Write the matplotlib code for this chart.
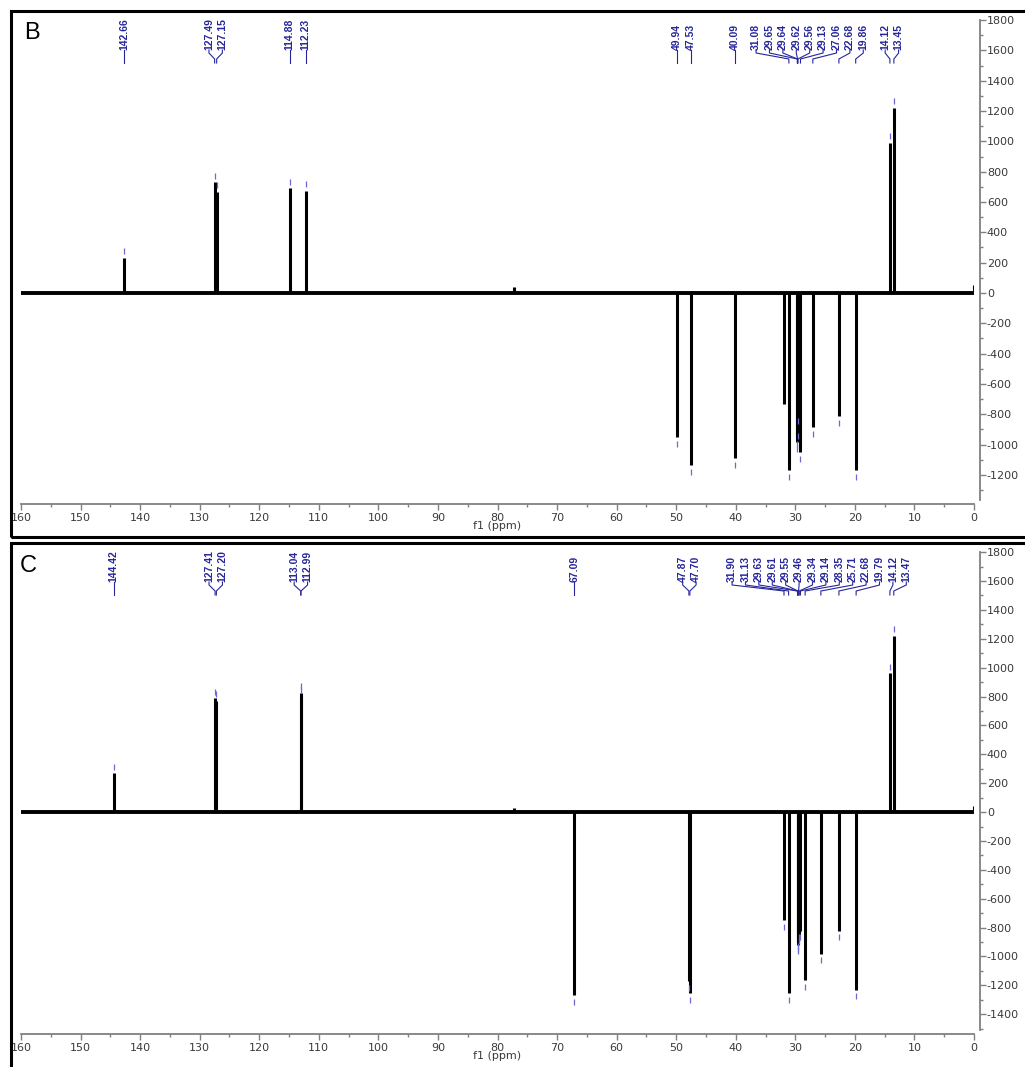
import numpy as np
import matplotlib.pyplot as plt
from matplotlib.transforms import blended_transform_factory
from matplotlib.patches import Rectangle
from matplotlib.ticker import MultipleLocator

plt.rcParams['axes.unicode_minus'] = False
plt.rcParams['font.family'] = ['DejaVu Sans']

# panel B peaks (ppm, intensity)
b_ppm = [142.66, 127.49, 127.15, 114.88, 112.23, 77.2, 49.94, 47.53, 40.09, 31.90, 31.08,
         29.65, 29.64, 29.62, 29.56, 29.13, 27.06, 22.68, 19.86, 14.12, 13.45, 0.0]
b_int = [230, 730, 665, 690, 675, 40, -950, -1135, -1090, -735, -1170,
         -985, -950, -900, -800, -1050, -885, -810, -1170, 990, 1220, 55]
b_labels = [142.66, 127.49, 127.15, 114.88, 112.23, 49.94, 47.53, 40.09, 31.08, 29.65,
            29.64, 29.62, 29.56, 29.13, 27.06, 22.68, 19.86, 14.12, 13.45]

# panel C peaks
c_ppm = [144.42, 127.41, 127.20, 113.04, 112.99, 77.2, 67.09, 47.87, 47.70, 31.90, 31.13,
         29.63, 29.61, 29.55, 29.46, 29.34, 29.14, 28.35, 25.71, 22.68, 19.79, 14.12, 13.47, 0.0]
c_int = [270, 790, 770, 825, 800, 25, -1270, -1170, -1255, -750, -1255,
         -920, -900, -880, -850, -820, -820, -1165, -980, -820, -1230, 960, 1220, 40]
c_labels = [144.42, 127.41, 127.20, 113.04, 112.99, 67.09, 47.87, 47.70, 31.90, 31.13,
            29.63, 29.61, 29.55, 29.46, 29.34, 29.14, 28.35, 25.71, 22.68, 19.79, 14.12, 13.47]

navy = '#26269a'
mark = '#6a6ad6'


def spread(vals, d):
    # push crowded labels apart, groups centred on their mean
    groups = []
    for v in vals:
        groups.append([v])
        while len(groups) > 1:
            g1, g2 = groups[-2], groups[-1]
            low1 = np.mean(g1) - d * (len(g1) - 1) / 2
            high2 = np.mean(g2) + d * (len(g2) - 1) / 2
            if low1 - high2 < d:
                groups[-2:] = [g1 + g2]
            else:
                break
    pos = []
    for g in groups:
        c = np.mean(g)
        pos += [c + d * ((len(g) - 1) / 2 - i) for i in range(len(g))]
    return pos


def draw_panel(ax, ppm, inten, labels, ylo, hpx):
    ppm = np.array(ppm)
    inten = np.array(inten)
    ax.plot([0, 160], [0, 0], color='k', lw=2.8, solid_capstyle='butt', zorder=2)
    ax.vlines(ppm, 0, inten, color='k', lw=2.2, zorder=3)

    # blue peak pick marks
    for p in labels:
        i = np.argmin(abs(ppm - p))
        s = np.sign(inten[i])
        ax.plot(p, inten[i] + s * 45, '|', ms=4, mew=0.9, color=mark, zorder=4)

    tr = blended_transform_factory(ax.transData, ax.transAxes)
    pos = spread(labels, 2.25)
    f = lambda px: 1 - px / hpx
    for p, xl in zip(labels, pos):
        ax.text(xl, f(30), '%.2f' % p, rotation=90, ha='center', va='bottom',
                fontsize=7.5, fontweight='bold', color=navy, transform=tr,
                family=['Liberation Sans', 'DejaVu Sans'])
        ax.plot([xl, xl, p, p], [f(30), f(33), f(39), f(43)], color=navy, lw=0.8,
                transform=tr, clip_on=False)

    ax.set_xlim(160, 0)
    ax.set_ylim(ylo, 1801)
    for s in ['left', 'top']:
        ax.spines[s].set_visible(False)
    ax.spines['right'].set_position(('outward', 4.3))
    ax.spines['bottom'].set_position(('outward', 3.2))
    ax.spines['bottom'].set_bounds(0, 160)
    for s in ['right', 'bottom']:
        ax.spines[s].set_color('#808080')
        ax.spines[s].set_linewidth(1.3)
    ax.yaxis.tick_right()
    ax.xaxis.set_major_locator(MultipleLocator(10))
    ax.xaxis.set_minor_locator(MultipleLocator(5))
    ax.yaxis.set_major_locator(MultipleLocator(200))
    ax.yaxis.set_minor_locator(MultipleLocator(100))
    ax.tick_params(which='both', color='#808080', labelcolor='#3a3a3a', labelsize=8)
    ax.tick_params(which='major', length=4, width=1)
    ax.tick_params(which='minor', length=2.5, width=1)
    ax.tick_params(axis='x', pad=2)
    ax.tick_params(axis='y', pad=1)
    ax.set_xlabel('f1 (ppm)', fontsize=8, color='#3a3a3a', labelpad=-1)


fig = plt.figure(figsize=(10.25, 10.67), dpi=100)
W, H = 1025, 1067

axb = fig.add_axes([21 / W, 1 - 500 / H, 953 / W, 480 / H])
draw_panel(axb, b_ppm, b_int, b_labels, -1366, 480)

axc = fig.add_axes([21 / W, 1 - 1030 / H, 953 / W, 478 / H])
draw_panel(axc, c_ppm, c_int, c_labels, -1509, 478)

# panel frames and letters
fig.patches.append(Rectangle((11 / W, 1 - 537 / H), 1.05, 526 / H, fill=False, lw=2.2,
                             edgecolor='k', transform=fig.transFigure, clip_on=False))
fig.patches.append(Rectangle((11 / W, -0.05), 1.05, 0.05 + 1 - 543 / H, fill=False, lw=2.2,
                             edgecolor='k', transform=fig.transFigure, clip_on=False))
fig.text(24 / W, 1 - 39 / H, 'B', fontsize=17, family='Liberation Sans', va='baseline')
fig.text(20 / W, 1 - 572 / H, 'C', fontsize=17, family='Liberation Sans', va='baseline')

plt.savefig('out.png', dpi=100)
